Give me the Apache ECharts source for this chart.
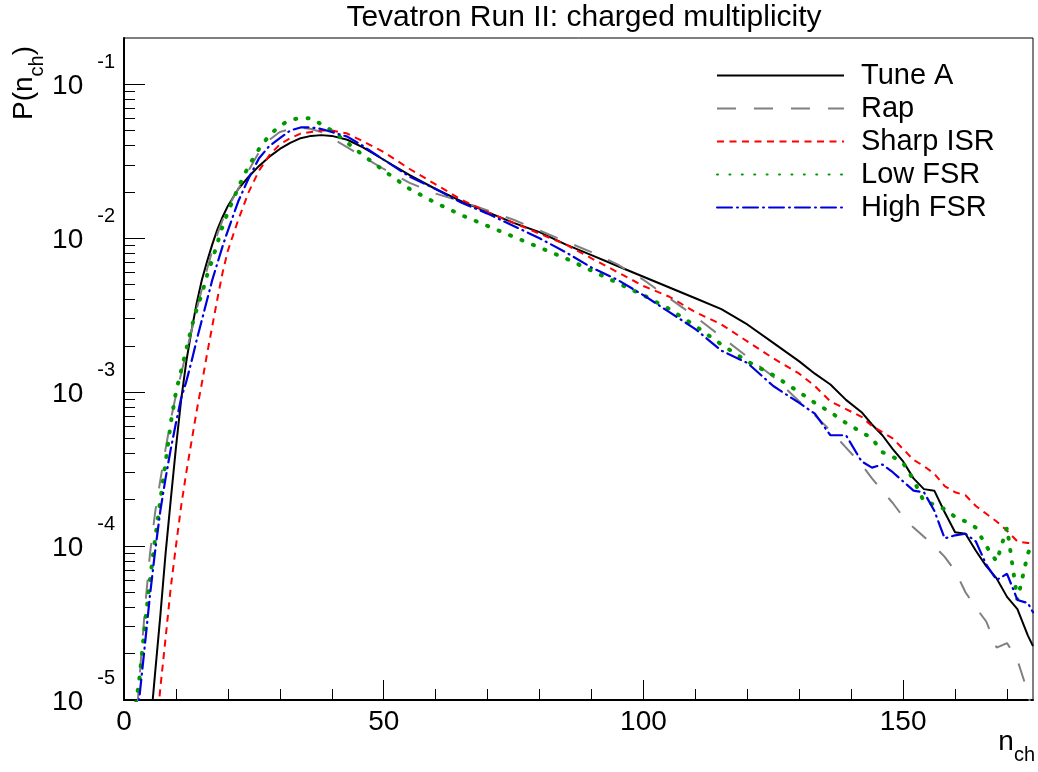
<!DOCTYPE html>
<html><head><meta charset="utf-8">
<script src="https://cdn.jsdelivr.net/npm/echarts@6/dist/echarts.min.js"></script>
<style>html,body{margin:0;padding:0;background:#fff}#c{width:1038px;height:772px}</style>
</head><body><div id="c"></div>
<script>
// n_ch sample positions
const nch = [2,3,4,5,6,7,8,9,10,11,12,13,14,15,16,17,18,19,20,22,24,26,28,30,32,34,36,38,40,43,46,50,55,60,65,70,75,80,85,90,95,100,105,110,115,120,125,130,133,136,139,142,144,146,148,150,152,154,156,158,160,162,164,166,168,170,172,174,175];
// log10 P(n_ch) (null = not drawn)
const tuneA = [null,null,-5.9,-5.2,-4.82,-4.45,-4.05,-3.70,-3.36,-3.05,-2.80,-2.60,-2.42,-2.27,-2.15,-2.04,-1.94,-1.86,-1.79,-1.68,-1.60,-1.53,-1.47,-1.42,-1.38,-1.35,-1.335,-1.33,-1.335,-1.36,-1.41,-1.49,-1.59,-1.68,-1.76,-1.83,-1.90,-1.96,-2.04,-2.11,-2.18,-2.25,-2.32,-2.39,-2.46,-2.56,-2.68,-2.80,-2.88,-2.95,-3.05,-3.13,-3.21,-3.28,-3.37,-3.45,-3.56,-3.63,-3.64,-3.78,-3.91,-3.92,-4.03,-4.13,-4.21,-4.33,-4.41,-4.58,-4.65];
const rap = [-5.3,-4.85,-4.42,-4.05,-3.78,-3.57,-3.37,-3.18,-3.02,-2.88,-2.74,-2.60,-2.46,-2.33,-2.20,-2.08,-1.97,-1.88,-1.80,-1.68,-1.56,-1.44,-1.36,-1.31,-1.29,-1.28,-1.29,-1.31,-1.35,-1.41,-1.47,-1.55,-1.64,-1.71,-1.76,-1.82,-1.88,-1.95,-2.02,-2.09,-2.17,-2.27,-2.39,-2.51,-2.64,-2.77,-2.90,-3.06,-3.15,-3.25,-3.36,-3.47,-3.56,-3.64,-3.72,-3.81,-3.88,-3.94,-4.00,-4.07,-4.16,-4.30,-4.40,-4.49,-4.66,-4.63,-4.74,-4.95,-5.1];
const sharpISR = [null,null,null,null,-5.3,-4.92,-4.60,-4.27,-4.00,-3.74,-3.52,-3.32,-3.12,-2.94,-2.75,-2.57,-2.39,-2.22,-2.08,-1.88,-1.70,-1.56,-1.46,-1.39,-1.35,-1.32,-1.31,-1.30,-1.30,-1.32,-1.37,-1.44,-1.55,-1.65,-1.75,-1.83,-1.90,-1.97,-2.04,-2.13,-2.22,-2.31,-2.38,-2.48,-2.56,-2.67,-2.78,-2.88,-2.96,-3.06,-3.11,-3.16,-3.22,-3.26,-3.30,-3.37,-3.44,-3.48,-3.53,-3.61,-3.65,-3.67,-3.74,-3.79,-3.84,-3.90,-3.97,-3.98,-3.98];
const lowFSR = [-5.1,-4.85,-4.52,-4.22,-3.95,-3.70,-3.46,-3.20,-3.00,-2.86,-2.72,-2.58,-2.46,-2.36,-2.24,-2.14,-2.03,-1.92,-1.83,-1.67,-1.53,-1.42,-1.33,-1.27,-1.23,-1.22,-1.22,-1.26,-1.30,-1.38,-1.46,-1.56,-1.68,-1.77,-1.85,-1.92,-1.99,-2.06,-2.13,-2.21,-2.29,-2.37,-2.46,-2.57,-2.69,-2.80,-2.89,-3.00,-3.07,-3.13,-3.20,-3.26,-3.30,-3.39,-3.42,-3.46,-3.57,-3.71,-3.73,-3.76,-3.81,-3.84,-3.88,-4.00,-4.10,-3.88,-4.35,-4.05,-3.97];
const highFSR = [-5.3,-4.97,-4.65,-4.32,-4.03,-3.77,-3.56,-3.37,-3.20,-3.04,-2.93,-2.80,-2.66,-2.53,-2.40,-2.27,-2.16,-2.05,-1.95,-1.76,-1.61,-1.48,-1.40,-1.35,-1.30,-1.28,-1.28,-1.29,-1.31,-1.34,-1.40,-1.49,-1.60,-1.68,-1.77,-1.84,-1.92,-2.00,-2.09,-2.19,-2.27,-2.37,-2.48,-2.59,-2.73,-2.81,-2.96,-3.07,-3.14,-3.28,-3.28,-3.45,-3.49,-3.47,-3.52,-3.58,-3.64,-3.65,-3.77,-3.95,-3.93,-3.92,-3.97,-4.12,-4.22,-4.18,-4.35,-4.37,-4.43];

const seriesNames = ['Tune A','Rap','Sharp ISR','Low FSR','High FSR'];
const xMajorTicks = [0,50,100,150];
const xMinorTicks = [10,20,30,40,60,70,80,90,110,120,130,140,160,170];
const yDecades = [-5,-4,-3,-2,-1];
const yMinorMult = [2,3,4,5,6,7,8,9];

const FONT = 'Liberation Sans, Arial, Helvetica, sans-serif';
const yMajor = yDecades.map(e => Math.pow(10, e));
const yMinor = [];
yDecades.forEach(e => yMinorMult.forEach(m => { const v = m * Math.pow(10, e); if (v < 0.2) yMinor.push(v); }));

function toData(arr) {
  const out = [];
  nch.forEach((n, i) => { if (arr[i] !== null) out.push([n, Math.pow(10, arr[i])]); });
  return out;
}

const styles = [
  {color:'#000000', width:2, type:'solid'},
  {color:'#808080', width:2, type:[19,18]},
  {color:'#ff0000', width:2, type:[7,5.5]},
  {color:'#009900', width:4, type:[1,11.4], cap:'round'},
  {color:'#0000dd', width:2.2, type:[15,5,1,5], cap:'round'}
];
const dataSets = [tuneA, rap, sharpISR, lowFSR, highFSR];

const chart = echarts.init(document.getElementById('c'), null, {renderer:'canvas'});
chart.setOption({
  animation: false,
  backgroundColor: '#fff',
  title: {
    text: 'Tevatron Run II: charged multiplicity',
    left: 579, top: -2, textAlign: 'center',
    textStyle: {fontFamily: FONT, fontSize: 30, fontWeight: 'normal', color: '#000'}
  },
  legend: {
    orient: 'vertical', left: 716, top: 61, padding: 0,
    itemWidth: 127, itemHeight: 14, itemGap: 4, selectedMode: false,
    itemStyle: {opacity: 0, borderWidth: 0},
    textStyle: {fontFamily: FONT, fontSize: 29, color: '#000', lineHeight: 29, padding: [0,0,0,12]},
    data: seriesNames
  },
  grid: {left: 124, right: 5, top: 38, bottom: 72, show: true, borderColor: '#000', borderWidth: 1, containLabel: false},
  xAxis: [
    {type: 'value', min: 0, max: 175, position: 'bottom',
     axisLine: {show: true, lineStyle: {color: '#000', width: 2}},
     axisTick: {show: true, inside: true, length: 20, customValues: xMajorTicks, lineStyle: {color: '#000', width: 1}},
     axisLabel: {customValues: xMajorTicks, fontFamily: FONT, fontSize: 28, color: '#000', margin: 8},
     splitLine: {show: false}},
    {type: 'value', min: 0, max: 175, position: 'bottom', offset: 0,
     axisLine: {show: false},
     axisTick: {show: true, inside: true, length: 11, customValues: xMinorTicks, lineStyle: {color: '#000', width: 1}},
     axisLabel: {show: false}, splitLine: {show: false}}
  ],
  yAxis: [
    {type: 'log', logBase: 10, min: 1e-5, max: 0.2, position: 'left',
     axisLine: {show: true, lineStyle: {color: '#000', width: 2}},
     axisTick: {show: true, inside: true, length: 21, customValues: yMajor, lineStyle: {color: '#000', width: 1}},
     axisLabel: {customValues: yMajor, margin: 9,
       formatter: v => '{m|10}{e|' + Math.round(Math.log10(v)) + '}',
       rich: {
         m: {fontFamily: FONT, fontSize: 28, lineHeight: 28, color: '#000', padding: [4,0,0,0]},
         e: {fontFamily: FONT, fontSize: 20, lineHeight: 20, color: '#000', padding: [0,0,44,14]}
       }},
     splitLine: {show: false}},
    {type: 'log', logBase: 10, min: 1e-5, max: 0.2, position: 'left', offset: 0,
     axisLine: {show: false},
     axisTick: {show: true, inside: true, length: 11, customValues: yMinor, lineStyle: {color: '#000', width: 1}},
     axisLabel: {show: false}, splitLine: {show: false}}
  ],
  graphic: [
    {type: 'text', x: 24, y: 120, rotation: Math.PI / 2,
     style: {text: '{a|P(n}{s|ch}{a|)}', align: 'left', verticalAlign: 'middle',
       rich: {a: {fontFamily: FONT, fontSize: 28, lineHeight: 28, fill: '#000'},
              s: {fontFamily: FONT, fontSize: 20, lineHeight: 20, fill: '#000', padding: [26,0,0,0]}}}},
    {type: 'text', x: 1035, y: 742,
     style: {text: '{a|n}{s|ch}', align: 'right', verticalAlign: 'middle',
       rich: {a: {fontFamily: FONT, fontSize: 28, lineHeight: 28, fill: '#000'},
              s: {fontFamily: FONT, fontSize: 20, lineHeight: 20, fill: '#000', padding: [26,0,0,0]}}}}
  ],
  series: seriesNames.map((name, i) => ({
    type: 'line', name: name, xAxisIndex: 0, yAxisIndex: 0,
    data: toData(dataSets[i]), symbol: 'none', showSymbol: false, clip: true,
    lineStyle: Object.assign({}, styles[i]), itemStyle: {color: styles[i].color},
    z: 2 + i
  }))
});
</script></body></html>
